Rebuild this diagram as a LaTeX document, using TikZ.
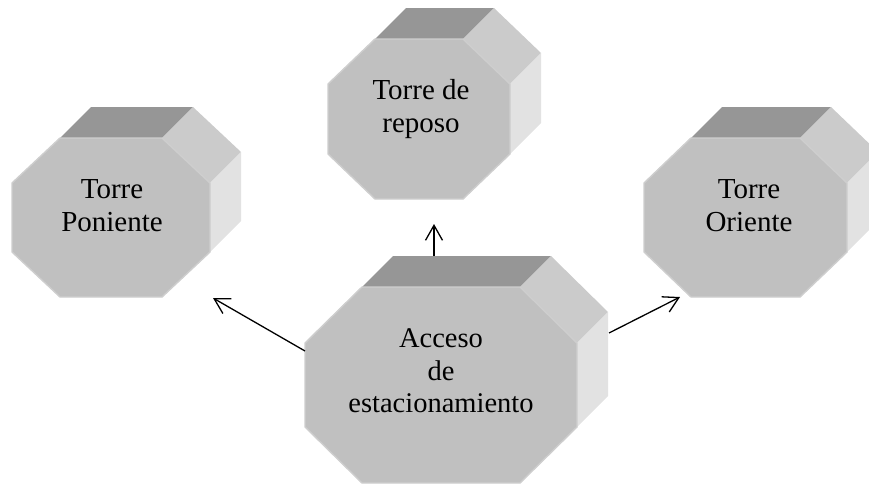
\documentclass[tikz,border=0pt]{standalone}
\usepackage{fontspec}
\setmainfont{Liberation Serif}
\usetikzlibrary{arrows.meta}
\definecolor{frontc}{HTML}{C0C0C0}
\definecolor{edgec}{HTML}{CECECE}
\definecolor{topc}{HTML}{969696}
\definecolor{diagc}{HTML}{CBCBCB}
\definecolor{sidec}{HTML}{E2E2E2}
\tikzset{
  lbl/.style={font=\fontsize{29}{33}\selectfont, align=center, inner sep=0pt, text=black},
  conn/.style={-{Straight Barb[length=15pt,width=17pt]}, line width=1.3pt, black},
  frontface/.style={fill=frontc, draw=edgec, line width=1.4pt, line join=miter},
}
% #1 left, #2 top, #3 width, #4 height, #5 chamfer x, #6 chamfer y
\newcommand{\octabox}[6]{%
  \fill[topc] (#1+#5,#2) -- (#1+#3-#5,#2) -- (#1+#3-#5+31,#2-31) -- (#1+#5+31,#2-31) -- cycle;
  \fill[diagc] (#1+#3-#5,#2) -- (#1+#3,#2+#6) -- (#1+#3+31,#2+#6-31) -- (#1+#3-#5+31,#2-31) -- cycle;
  \fill[sidec] (#1+#3,#2+#6) -- (#1+#3,#2+#4-#6) -- (#1+#3+31,#2+#4-#6-31) -- (#1+#3+31,#2+#6-31) -- cycle;
  \path[frontface] (#1+#5,#2) -- (#1+#3-#5,#2) -- (#1+#3,#2+#6) -- (#1+#3,#2+#4-#6)
     -- (#1+#3-#5,#2+#4) -- (#1+#5,#2+#4) -- (#1,#2+#4-#6) -- (#1,#2+#6) -- cycle;
}
\begin{document}
\begin{tikzpicture}[x=1pt,y=-1pt]
\path[use as bounding box] (0,0) rectangle (869,483);
\clip (0,0) rectangle (869,483);
% octagons
\octabox{328}{39}{182}{160}{47}{45}
\octabox{12}{138}{198}{159}{48}{45}
\octabox{644}{138}{203}{159}{47}{45}
\octabox{305}{287}{272}{196}{57}{56}
% labels
\node[lbl] (reposo) at (421,109) {Torre de\\reposo};
\node[lbl] (poniente) at (112,206) {Torre\\Poniente};
\node[lbl] (oriente) at (749,206) {Torre\\Oriente};
\node[lbl, font=\fontsize{28.5}{32.5}\selectfont] (acceso) at (441,371) {Acceso\\de\\estacionamiento};
% connector end points
\coordinate (accN) at (434,256);
\coordinate (repS) at (434,224);
\coordinate (accW) at (305,351);
\coordinate (ponSE) at (213,298);
\coordinate (accE) at (609,333);
\coordinate (oriSW) at (680,297);
\draw[conn] (accN) -- (repS);
\draw[conn] (accW) -- (ponSE);
\draw[conn] (accE) -- (oriSW);
\end{tikzpicture}
\end{document}
